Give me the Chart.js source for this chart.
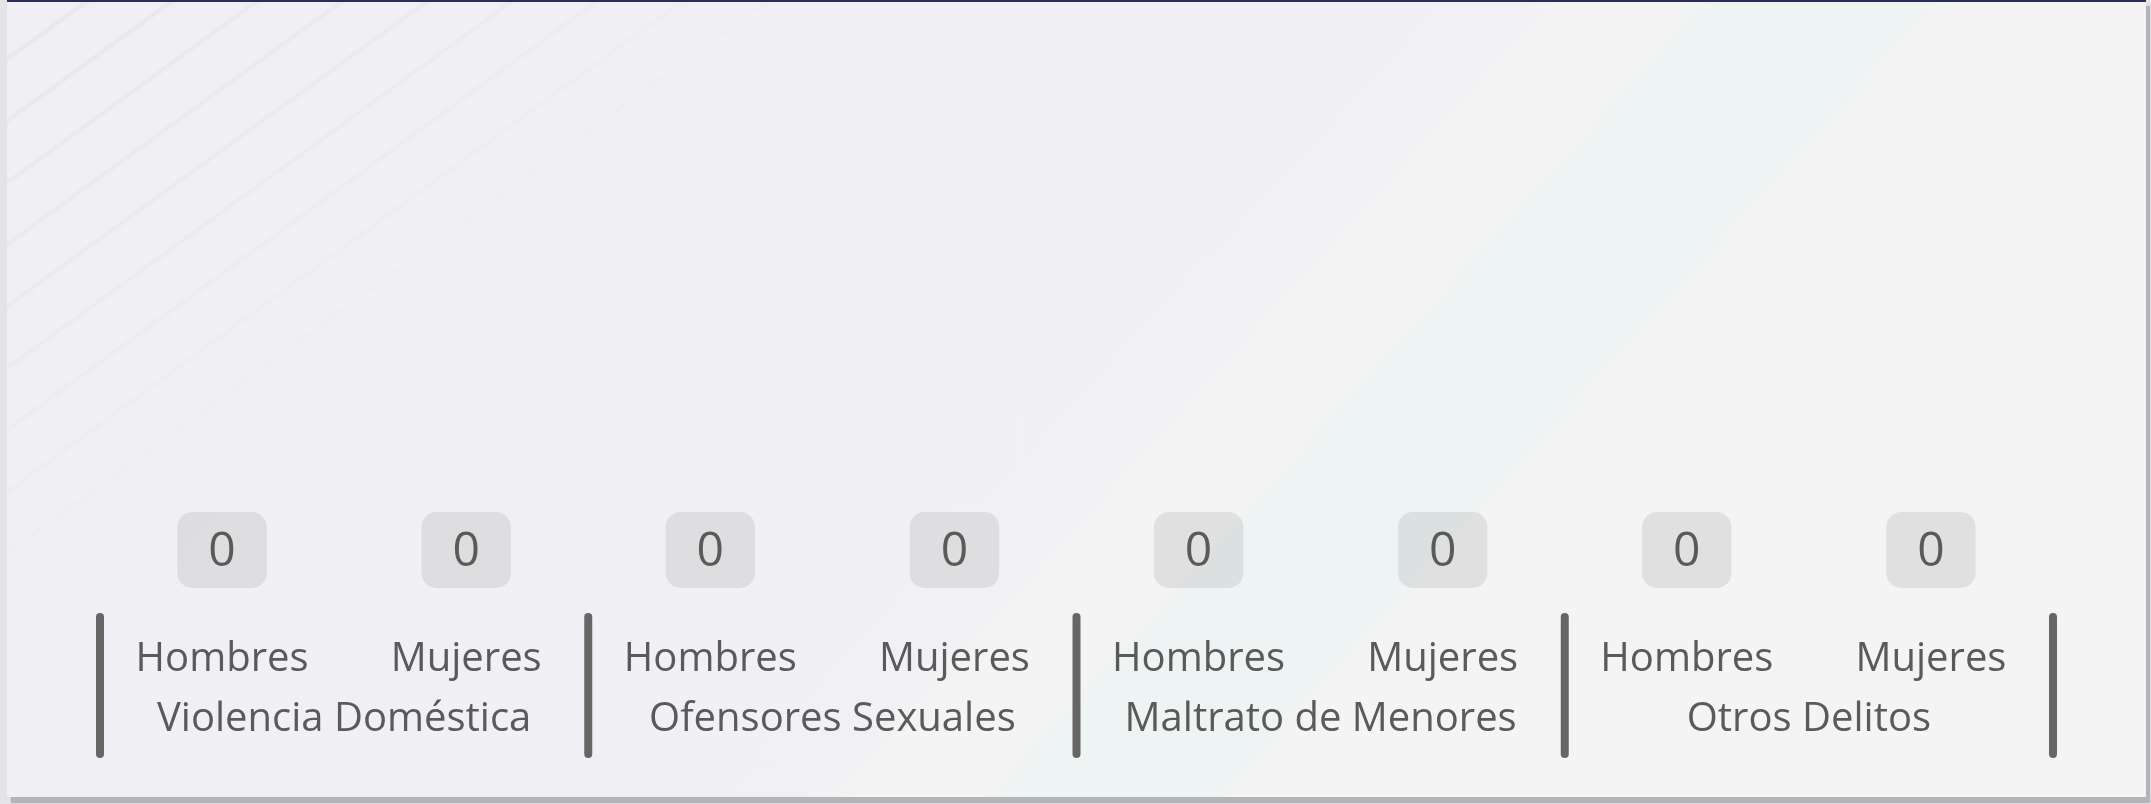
<!DOCTYPE html>
<html>
<head>
<meta charset="utf-8">
<script src="https://cdn.jsdelivr.net/npm/chart.js@4.4.1/dist/chart.umd.min.js"></script>
<style>
  html, body { margin: 0; padding: 0; width: 2151px; height: 804px; overflow: hidden; background: #e4e4e8; }
  #card {
    position: absolute; left: 7px; top: 0; width: 2139px; height: 797px;
    box-sizing: border-box; border-top: 2px solid #282d5a;
    box-shadow: 4px 6px 1px #b4b4b4;
    background: linear-gradient(132deg, #f0f0f4 0%, #f1f1f5 53%, #f4f4f4 55%, #f4f4f4 59%, #eef3f3 60%, #eef3f3 67%, #f4f4f4 68%, #f4f4f4 100%);
  }
  #card::before {
    content: ''; position: absolute; inset: 0;
    background: repeating-linear-gradient(144deg, transparent 0 43px, rgba(212,212,224,0.4) 46px, transparent 50px);
    -webkit-mask-image: linear-gradient(144deg, black 0%, rgba(0,0,0,0.6) 14%, transparent 28%);
    mask-image: linear-gradient(144deg, black 0%, rgba(0,0,0,0.6) 14%, transparent 28%);
  }
  #plot { position: absolute; left: 0; top: 0; }
</style>
</head>
<body>
<div id="card"></div>
<canvas id="plot" width="2151" height="804"></canvas>
<script>
const categories = ['Hombres', 'Mujeres', 'Hombres', 'Mujeres', 'Hombres', 'Mujeres', 'Hombres', 'Mujeres'];
const groups = ['Violencia Doméstica', 'Ofensores Sexuales', 'Maltrato de Menores', 'Otros Delitos'];
const values = [0, 0, 0, 0, 0, 0, 0, 0];

// value boxes above each bar (no datalabels plugin available offline)
const valueBoxes = {
    id: 'valueBoxes',
    afterDatasetsDraw(chart) {
        const ctx = chart.ctx;
        const meta = chart.getDatasetMeta(0);
        ctx.save();
        ctx.font = '48px "Open Sans"';
        ctx.textAlign = 'center';
        ctx.textBaseline = 'middle';
        meta.data.forEach(function(bar, i) {
            const txt = String(values[i]);
            const w = ctx.measureText(txt).width + 62;
            const h = 76;
            const top = bar.y - 12 - h;
            ctx.fillStyle = 'rgba(0,0,0,0.08)';
            ctx.beginPath();
            ctx.roundRect(bar.x - w / 2, top, w, h, 15);
            ctx.fill();
            ctx.fillStyle = '#5a5a5a';
            ctx.fillText(txt, bar.x, top + h / 2 + 2);
        });
        ctx.restore();
    }
};

// group names under each pair + thick separators between the groups
const groupAxis = {
    id: 'groupAxis',
    afterDraw(chart) {
        const xs = chart.scales.x;
        const ctx = chart.ctx;
        const bottom = chart.chartArea.bottom;
        const half = (xs.getPixelForValue(1) - xs.getPixelForValue(0)) / 2;
        ctx.save();
        ctx.font = '40px "Open Sans"';
        ctx.fillStyle = '#5a5a5a';
        ctx.textAlign = 'center';
        ctx.textBaseline = 'middle';
        groups.forEach(function(name, g) {
            const mid = (xs.getPixelForValue(g * 2) + xs.getPixelForValue(g * 2 + 1)) / 2;
            ctx.fillText(name, mid, bottom + 120);
        });
        ctx.strokeStyle = '#666666';
        ctx.lineWidth = 8;
        ctx.lineCap = 'round';
        for (let g = 0; g <= groups.length; g++) {
            const x = g < groups.length
                ? xs.getPixelForValue(g * 2) - half
                : xs.getPixelForValue(categories.length - 1) + half;
            ctx.beginPath();
            ctx.moveTo(x, bottom + 17);
            ctx.lineTo(x, bottom + 154);
            ctx.stroke();
        }
        ctx.restore();
    }
};

function draw() {
    const ctx = document.getElementById('plot').getContext('2d');
    window.myChart = new Chart(ctx, {
        type: 'bar',
        data: {
            labels: categories,
            datasets: [{
                data: values,
                backgroundColor: '#4a6fa5',
                borderWidth: 0
            }]
        },
        plugins: [valueBoxes, groupAxis],
        options: {
            responsive: false,
            animation: false,
            layout: { padding: { left: 100, right: 98, top: 20, bottom: 84 } },
            plugins: { legend: { display: false }, tooltip: { enabled: false } },
            scales: {
                y: { display: false, min: 0, max: 10 },
                x: {
                    grid: { display: false, drawTicks: false },
                    border: { display: false },
                    ticks: { color: '#5a5a5a', font: { family: 'Open Sans', size: 40 }, padding: 36, maxRotation: 0, autoSkip: false }
                }
            }
        }
    });
}

document.fonts.load('40px "Open Sans"').then(draw, draw);
</script>
</body>
</html>
